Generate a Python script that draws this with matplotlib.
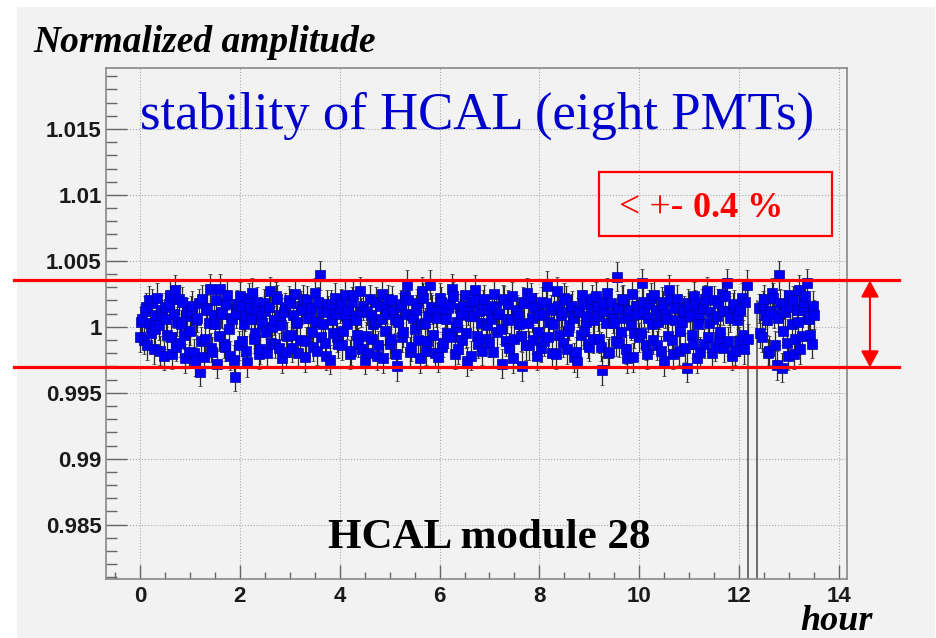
#!/usr/bin/env python3

import matplotlib
matplotlib.use('Agg')
import matplotlib.pyplot as plt
from matplotlib.patches import Rectangle
from matplotlib.ticker import MultipleLocator, FuncFormatter

# Deviations from 1 in units of 1e-4, one point every 0.05 hour (set A)
dev_a1 = [
    -8, 6, 12, -14, 3, 18, -2, 22, -18, 9, 15, -6, 24, -21, 28, 4, -12, 19, -24, 11,
    -3, 16, -26, 7, -34, 21, -9, 13, 29, -19, 2, -28, 29, 10, -15, 24, -22, 6, -38, 17,
    23, -11, 8, -27, 14, 26, -5, 19, -17, 3, 12, -20, 27, 0, -13, 21, 9, -24, 15, -7,
    18, -16, 25, 4, -10, 13, -23, 20, 7, -4, 26, -18, 39, 11, -12, 17, -25, 5, 22, -8,
    14, -14, 24, 2, -21, 19, 8, -6, 27, -17, -25, 12, 21, -9, 4, -22, 16, 25, -3, 10,
    -13, 20, 6, -30, 15, -8, 23, 32, -19, 9, -2, 18, -24, 27, 3, -11, 32, 13, -20, 7,
    22, -15, 11, -5, 17, 29, -21, 4, 14, -10, 24, -26, 8, 19, 28, -7, 12, -18, 21, 1,
    -12, 16, 25, -4, 10, -28, 20, 6, -16, 23, -9, 13, 2, -30, 18, 26, -14, 7, 15, -22,
    9, 19, -11, 31, 4, -20, 14, 27, -6, 11, 22, -17, 1, 16, -23, -27, 12, 24, -3, 8,
    -15, 21, 5, 15, -9, -33, 18, 26, -19, 10, 3, 38, -12, 20, 7, -24, 13, 25, -5, 16,
    -8, 33, 11, -21, 17, 2, 24, -14, 9, 19, -26, 6, 28, -10, 14, 21, -18, 4, 12, -31,
    15, -6, 23, -24, 10, 18, -13, 27, 3, -20, 20, 8, -9, 25, -16, 33, 12, -22, 17, 5,
    -11, 22, -17, 32,
]
dev_a2 = [
    14, -8, 21, 5, -18, 26, 10, -29, 39, -31, 17, -12, 24, 2, -21, 13, 28, -7, 19, 33,
    6, -13, 9,
]
# set B, shifted by 0.025 hour
dev_b1 = [
    4, -10, 15, 20, -5, -17, 9, 1, 13, -22, 6, 17, -8, 10, -15, 21, 2, -6, 8, -19,
    12, -20, 5, 18, -11, -23, 14, 3, -16, 9, 20, -7, 11, -13, 17, -2, 7, -25, 10, -14,
    16, 2, -18, 22, 6, -9, 13, -21, 8, 18, -4, 15, -12, 5, 23, -16, 1, 11, -19, 20,
    -6, 9, 3, -20, 16, 21, -11, 7, 14, -15, 4, 19, -8, 2, -22, 12, 17, -5, 10, -13,
    18, -3, 8, 13, -18, 24, 5, -12, 11, 16, -7, -20, 9, 2, 19, -14, 6, -24, 14, 21,
    -9, 12, -21, 4, 17, -4, 10, 20, -15, 7, 13, -10, 2, 22, -18, 8, 15, -6, 11, -23,
    19, -12, 6, 14, -8, 23, 0, -17, 10, 16, -5, 12, -22, 8, 20, -13, 3, 17, -9, 13,
    6, -19, 14, 10, -2, 21, -11, 17, 5, -24, 12, 8, -7, 19, -14, 3, 22, -10, 15, -4,
    -16, 10, 18, -8, 13, 2, -21, 16, 9, -12, 20, -3, 14, 7, -19, 11, -6, 17, 4, -13,
    15, -9, 23, 8, -15, 12, 3, -20, 18, 6, -11, 14, -4, 21, -17, 9, 1, -23, 16, 10,
    -5, 19, -14, 7, 22, -10, 13, 4, -18, 16, 10, -7, 20, -21, 5, 14, -3, 11, -16, 18,
    8, -13, 17, 2, -19, 14, 21, -8, 11, 6, -15, 18, -4, 12, 23, -11, 7, 15, -18, 9,
    13, -6, 19, -9,
]
dev_b2 = [
    -5, 16, 9, -20, 12, 22, -14, 7, 18, -3, 11, -22, 15, 20, -9, 4, -17, 13, 23, 8,
    -6, 16,
]

hours_a = [0.05 * i for i in range(len(dev_a1))] + [12.4 + 0.05 * j for j in range(len(dev_a2))]
hours_b = [0.025 + 0.05 * i for i in range(len(dev_b1))] + [12.425 + 0.05 * j for j in range(len(dev_b2))]
hours = hours_a + hours_b
amplitude = [1 + d * 1e-4 for d in dev_a1 + dev_a2 + dev_b1 + dev_b2]
amp_err = 0.0011

# dropout spikes seen near the gap
gap_hours = [12.17, 12.36]
gap_tops = [1.0035, 1.0020]

band_limits = [0.99692, 1.00351]

yticks = [0.985, 0.99, 0.995, 1.0, 1.005, 1.01, 1.015]
xticks = [0, 2, 4, 6, 8, 10, 12, 14]

# time order so bars and markers interleave like the original
order = sorted(range(len(hours)), key=lambda k: hours[k])
hours = [hours[k] for k in order]
amplitude = [amplitude[k] for k in order]

W, H = 937, 638
fig = plt.figure(figsize=(W / 100, H / 100), dpi=100, facecolor='white')
fig.patches.append(Rectangle((17 / W, 0), (935 - 17) / W, (H - 7) / H,
                             transform=fig.transFigure, facecolor='#f2f2f2',
                             edgecolor='none', zorder=-10))

ax = fig.add_axes([106 / W, 1 - 579 / H, (847 - 106) / W, (579 - 68) / H])
ax.set_facecolor('#f2f2f2')

ax.errorbar(hours, amplitude, yerr=amp_err, fmt='s', ms=7.8,
            mfc='#0000f4', mec='#0000a8', mew=0.5,
            ecolor='#2a2a2a', elinewidth=0.9, capsize=1.6, capthick=0.9, zorder=3)

ax.vlines(gap_hours, 0.97, gap_tops, color='#555555', lw=1.2, zorder=2)

ax.set_xlim(-0.68, 14.16)
ax.set_ylim(0.98088, 1.01962)

ax.set_xticks(xticks)
ax.set_yticks(yticks)
ax.xaxis.set_minor_locator(MultipleLocator(0.5))
ax.yaxis.set_minor_locator(MultipleLocator(0.001))
ax.yaxis.set_major_formatter(FuncFormatter(lambda v, p: '%g' % round(v, 4)))

ax.tick_params(axis='y', which='major', direction='in', length=15, width=1, color='#666666', pad=3)
ax.tick_params(axis='y', which='minor', direction='in', length=8, width=1, color='#666666')
ax.tick_params(axis='x', which='major', direction='in', length=10, width=1, color='#666666', pad=5)
ax.tick_params(axis='x', which='minor', direction='in', length=5, width=1, color='#666666')
for lab in ax.get_xticklabels() + ax.get_yticklabels():
    lab.set_fontfamily('Liberation Sans')
    lab.set_fontweight('bold')
    lab.set_fontsize(16)
    lab.set_color('#1a1a1a')

ax.grid(True, which='major', color='#aaaaaa', linestyle=':', linewidth=0.8)
ax.set_axisbelow(True)
for sp in ax.spines.values():
    sp.set_color('#888888')
    sp.set_linewidth(1.2)

# +-0.4% band lines, running past the frame
ytr = ax.get_yaxis_transform()
for lim in band_limits:
    ax.plot([-0.124, 1.070], [lim, lim], color='red', lw=2.3, transform=ytr,
            clip_on=False, zorder=5)
ax.annotate('', xy=(1.031, band_limits[1]), xytext=(1.031, band_limits[0]),
            xycoords=ytr, textcoords=ytr,
            arrowprops=dict(arrowstyle='<|-|>,head_length=0.5,head_width=0.27',
                            mutation_scale=20, color='red', lw=1.5,
                            shrinkA=0, shrinkB=0))

serif = 'Liberation Serif'
fig.text(33 / W, 1 - 52 / H, 'Normalized amplitude', family=serif, weight='bold',
         style='italic', fontsize=27, va='baseline', ha='left')
fig.text(140 / W, 1 - 129 / H, 'stability of HCAL (eight PMTs)', family=serif,
         color='#0000cc', fontsize=38, va='baseline', ha='left')
fig.text(328 / W, 1 - 548 / H, 'HCAL module 28', family=serif, weight='bold',
         fontsize=31, va='baseline', ha='left')
fig.text(873 / W, 1 - 630 / H, 'hour', family=serif, weight='bold',
         style='italic', fontsize=26, va='baseline', ha='right')

fig.patches.append(Rectangle((599 / W, 1 - 236 / H), (832 - 599) / W, (236 - 172) / H,
                             transform=fig.transFigure, facecolor='none',
                             edgecolor='red', linewidth=1.6, zorder=6))
fig.text(619 / W, 1 - 217 / H, '< +-', family=serif, color='red',
         fontsize=27, va='baseline', ha='left')
fig.text(693 / W, 1 - 217 / H, '0.4 %', family=serif, color='red', weight='bold',
         fontsize=26, va='baseline', ha='left')

fig.savefig('out.png', dpi=100, facecolor=fig.get_facecolor())
